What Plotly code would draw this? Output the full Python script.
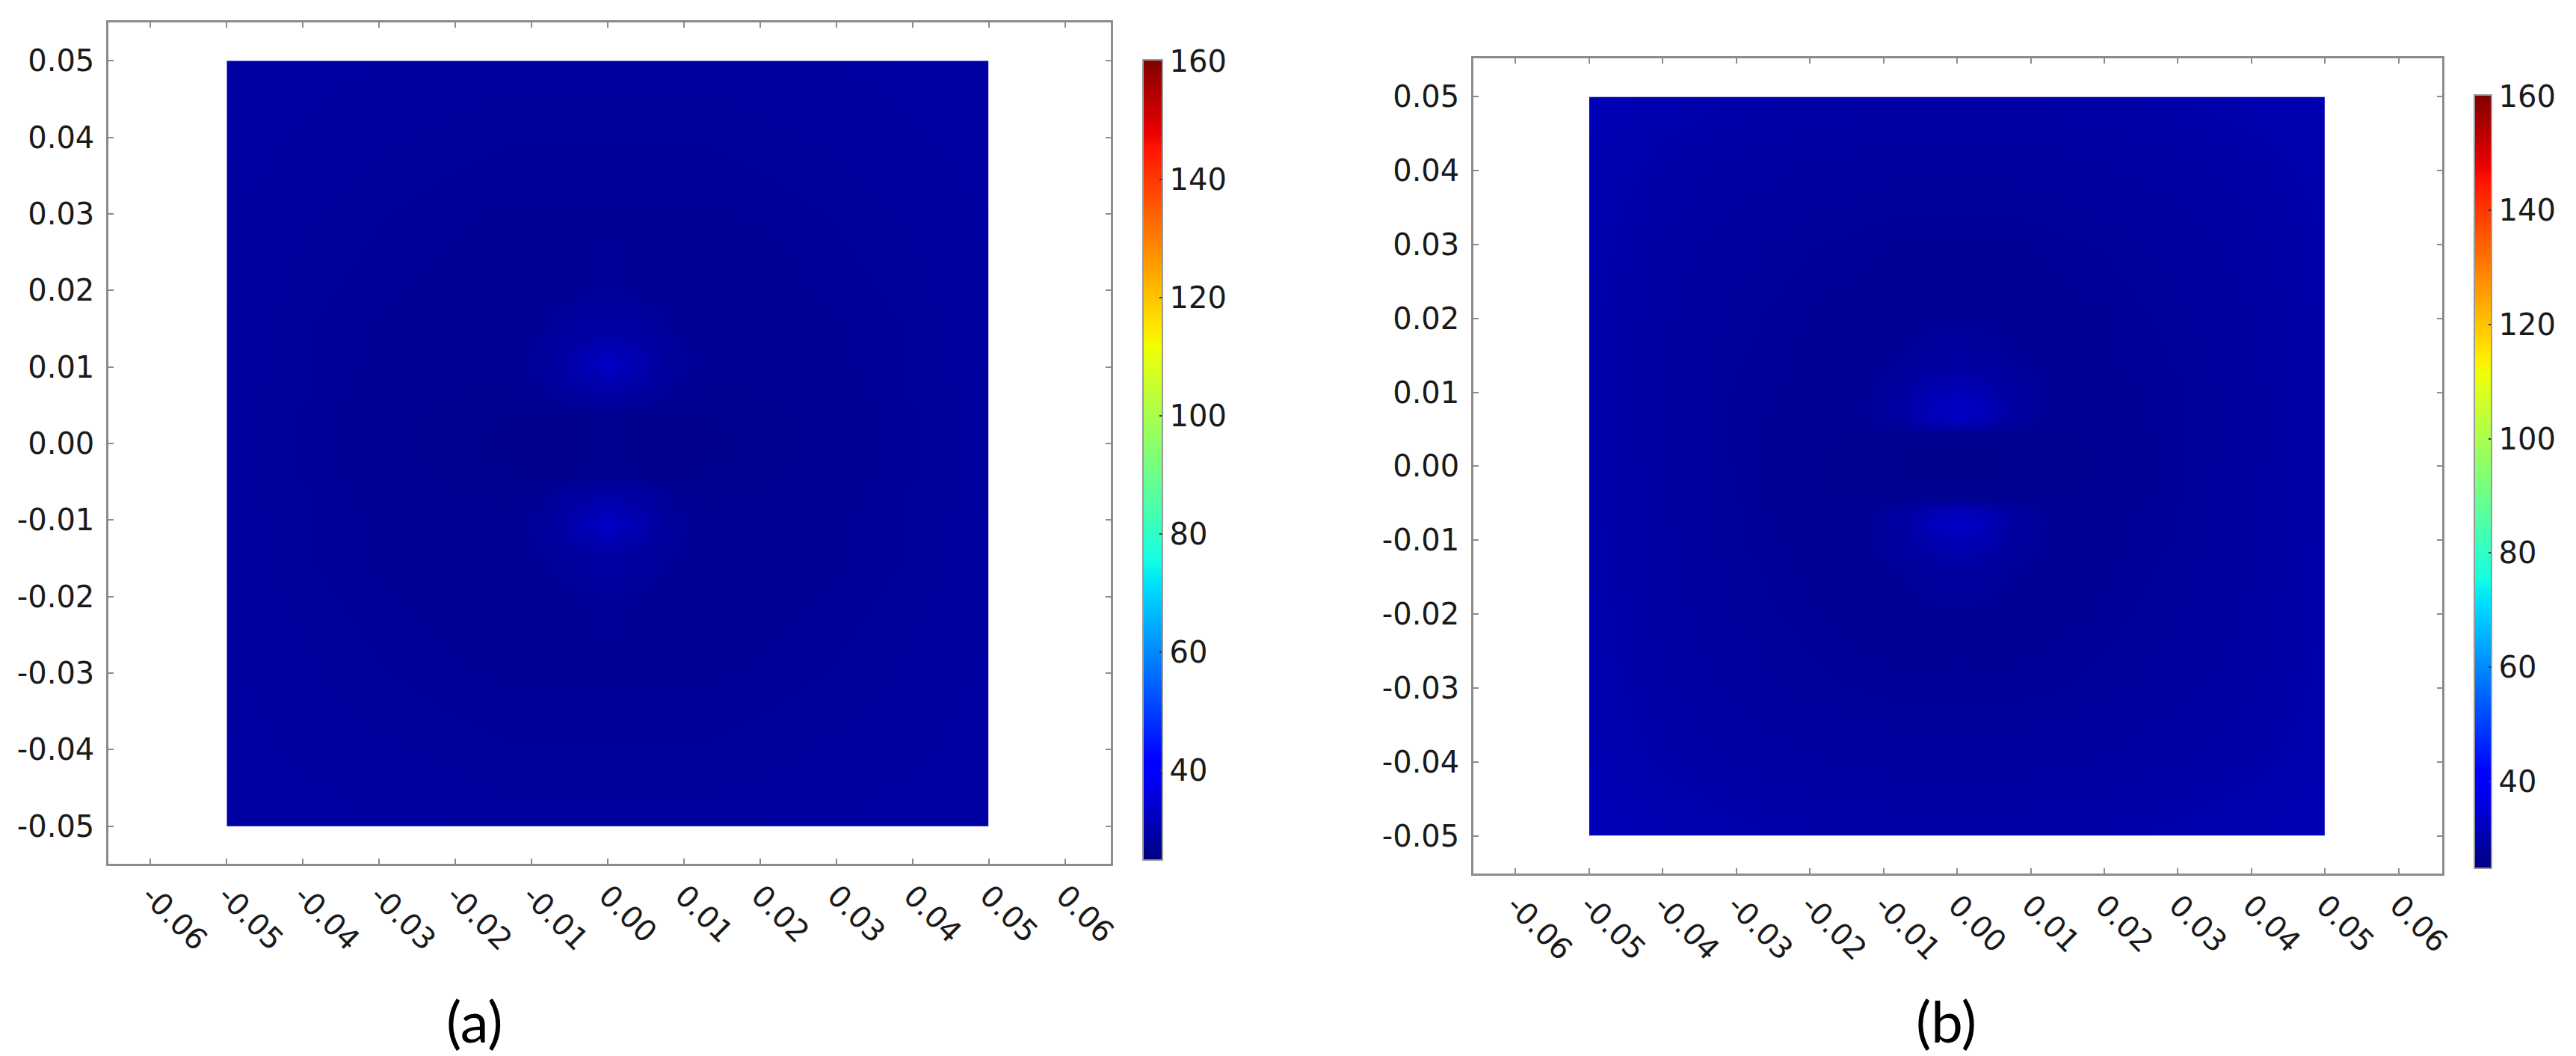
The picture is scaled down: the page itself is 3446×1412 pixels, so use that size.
import plotly.graph_objects as go

FIG_W, FIG_H = 3446, 1412

# ---- axis ticks ----------------------------------------------------------
x_tick_vals = [-0.06, -0.05, -0.04, -0.03, -0.02, -0.01, 0.0, 0.01, 0.02, 0.03, 0.04, 0.05, 0.06]
x_tick_text = ["-0.06", "-0.05", "-0.04", "-0.03", "-0.02", "-0.01", "0.00",
               "0.01", "0.02", "0.03", "0.04", "0.05", "0.06"]
y_tick_vals = [-0.05, -0.04, -0.03, -0.02, -0.01, 0.0, 0.01, 0.02, 0.03, 0.04, 0.05]
y_tick_text = ["-0.05", "-0.04", "-0.03", "-0.02", "-0.01", "0.00",
               "0.01", "0.02", "0.03", "0.04", "0.05"]
cbar_vals = [40, 60, 80, 100, 120, 140, 160]
c_min, c_max = 24.8, 160.2

# ---- panel (a) field (rows bottom -> top) --------------------------------
xa = [-0.05, -0.04, -0.03, -0.02, -0.013, -0.008, -0.004, 0.0, 0.004, 0.008, 0.013, 0.02, 0.03, 0.04, 0.05]
ya = [-0.05, -0.04, -0.03, -0.02, -0.0145, -0.0105, -0.0065, -0.0035, 0.0,
      0.0035, 0.0065, 0.0105, 0.0145, 0.02, 0.03, 0.04, 0.05]
za = [
    [29.0, 28.8, 28.5, 28.3, 28.2, 28.2, 28.2, 28.2, 28.2, 28.2, 28.2, 28.3, 28.5, 28.8, 29.0],
    [28.8, 28.4, 28.1, 27.9, 27.8, 27.8, 27.8, 27.8, 27.8, 27.8, 27.8, 27.9, 28.1, 28.4, 28.8],
    [28.6, 28.1, 27.8, 27.6, 27.5, 27.5, 27.5, 27.5, 27.5, 27.5, 27.5, 27.6, 27.8, 28.1, 28.6],
    [28.4, 27.9, 27.6, 27.4, 27.3, 27.3, 27.5, 27.7, 27.5, 27.3, 27.3, 27.4, 27.6, 27.9, 28.4],
    [28.3, 27.8, 27.5, 27.3, 27.3, 27.7, 28.6, 29.3, 28.6, 27.7, 27.3, 27.3, 27.5, 27.8, 28.3],
    [28.3, 27.8, 27.5, 27.2, 27.3, 28.2, 30.6, 33.0, 30.6, 28.2, 27.3, 27.2, 27.5, 27.8, 28.3],
    [28.2, 27.8, 27.4, 27.1, 26.9, 27.4, 28.5, 29.4, 28.5, 27.4, 26.9, 27.1, 27.4, 27.8, 28.2],
    [28.2, 27.7, 27.3, 26.9, 26.5, 26.3, 26.4, 26.6, 26.4, 26.3, 26.5, 26.9, 27.3, 27.7, 28.2],
    [28.2, 27.7, 27.3, 26.8, 26.3, 26.0, 26.3, 27.4, 26.3, 26.0, 26.3, 26.8, 27.3, 27.7, 28.2],
    [28.2, 27.7, 27.3, 26.9, 26.5, 26.3, 26.4, 26.6, 26.4, 26.3, 26.5, 26.9, 27.3, 27.7, 28.2],
    [28.2, 27.8, 27.4, 27.1, 26.9, 27.4, 28.5, 29.4, 28.5, 27.4, 26.9, 27.1, 27.4, 27.8, 28.2],
    [28.3, 27.8, 27.5, 27.2, 27.3, 28.2, 30.6, 33.0, 30.6, 28.2, 27.3, 27.2, 27.5, 27.8, 28.3],
    [28.3, 27.8, 27.5, 27.3, 27.3, 27.7, 28.6, 29.3, 28.6, 27.7, 27.3, 27.3, 27.5, 27.8, 28.3],
    [28.4, 27.9, 27.6, 27.4, 27.3, 27.3, 27.5, 27.7, 27.5, 27.3, 27.3, 27.4, 27.6, 27.9, 28.4],
    [28.6, 28.1, 27.8, 27.6, 27.5, 27.5, 27.5, 27.5, 27.5, 27.5, 27.5, 27.6, 27.8, 28.1, 28.6],
    [28.8, 28.4, 28.1, 27.9, 27.8, 27.8, 27.8, 27.8, 27.8, 27.8, 27.8, 27.9, 28.1, 28.4, 28.8],
    [29.0, 28.8, 28.5, 28.3, 28.2, 28.2, 28.2, 28.2, 28.2, 28.2, 28.2, 28.3, 28.5, 28.8, 29.0],
]

# ---- panel (b) field ------------------------------------------------------
xb = [-0.05, -0.04, -0.03, -0.02, -0.012, -0.007, -0.0035, 0.0, 0.0035, 0.007, 0.012, 0.02, 0.03, 0.04, 0.05]
yb = [-0.05, -0.04, -0.03, -0.02, -0.014, -0.0105, -0.0075, -0.006, -0.0045, -0.002, 0.0,
      0.002, 0.0045, 0.006, 0.0075, 0.0105, 0.014, 0.02, 0.03, 0.04, 0.05]
zb = [
    [31.6, 30.7, 30.1, 29.7, 29.5, 29.4, 29.4, 29.4, 29.4, 29.4, 29.5, 29.7, 30.1, 30.6, 31.2],
    [30.9, 29.7, 29.0, 28.6, 28.4, 28.3, 28.3, 28.3, 28.3, 28.3, 28.4, 28.6, 29.0, 29.5, 30.5],
    [30.5, 29.1, 28.3, 27.9, 27.7, 27.6, 27.6, 27.6, 27.6, 27.6, 27.7, 27.9, 28.3, 28.9, 30.1],
    [30.3, 28.8, 28.0, 27.6, 27.4, 27.4, 27.4, 27.5, 27.4, 27.4, 27.4, 27.6, 28.0, 28.6, 29.9],
    [30.2, 28.7, 27.9, 27.5, 27.4, 27.7, 28.4, 28.8, 28.4, 27.7, 27.4, 27.5, 27.9, 28.5, 29.8],
    [30.2, 28.7, 27.8, 27.4, 27.5, 28.6, 30.2, 31.0, 30.2, 28.6, 27.5, 27.4, 27.8, 28.5, 29.8],
    [30.1, 28.6, 27.8, 27.4, 27.6, 29.2, 31.8, 33.2, 31.8, 29.2, 27.6, 27.4, 27.8, 28.4, 29.7],
    [30.1, 28.6, 27.8, 27.3, 27.4, 28.6, 30.6, 31.8, 30.6, 28.6, 27.4, 27.3, 27.8, 28.4, 29.7],
    [30.1, 28.6, 27.7, 27.2, 27.0, 26.9, 26.9, 27.0, 26.9, 26.9, 27.0, 27.2, 27.7, 28.4, 29.7],
    [30.1, 28.6, 27.7, 27.1, 26.9, 26.6, 26.5, 26.5, 26.5, 26.6, 26.9, 27.1, 27.7, 28.4, 29.7],
    [30.1, 28.6, 27.7, 27.1, 26.9, 26.6, 26.4, 26.4, 26.4, 26.6, 26.9, 27.1, 27.7, 28.4, 29.7],
    [30.0, 28.5, 27.7, 27.1, 26.9, 26.6, 26.5, 26.5, 26.5, 26.6, 26.9, 27.1, 27.7, 28.3, 29.6],
    [30.0, 28.5, 27.7, 27.2, 27.0, 26.9, 26.9, 27.0, 26.9, 26.9, 27.0, 27.2, 27.7, 28.3, 29.6],
    [30.0, 28.5, 27.7, 27.3, 27.4, 28.6, 30.6, 31.8, 30.6, 28.6, 27.4, 27.3, 27.7, 28.3, 29.6],
    [30.0, 28.5, 27.7, 27.4, 27.6, 29.2, 31.8, 33.2, 31.8, 29.2, 27.6, 27.4, 27.7, 28.3, 29.6],
    [30.0, 28.5, 27.7, 27.4, 27.5, 28.6, 30.2, 31.0, 30.2, 28.6, 27.5, 27.4, 27.7, 28.3, 29.6],
    [30.0, 28.5, 27.8, 27.5, 27.4, 27.7, 28.4, 28.8, 28.4, 27.7, 27.4, 27.5, 27.8, 28.4, 29.6],
    [30.1, 28.6, 27.9, 27.5, 27.4, 27.4, 27.4, 27.5, 27.4, 27.4, 27.4, 27.5, 27.9, 28.5, 29.7],
    [30.3, 28.9, 28.2, 27.8, 27.6, 27.5, 27.5, 27.5, 27.5, 27.5, 27.6, 27.8, 28.2, 28.8, 29.9],
    [30.6, 29.5, 28.8, 28.4, 28.2, 28.1, 28.1, 28.1, 28.1, 28.1, 28.2, 28.4, 28.8, 29.3, 30.2],
    [31.2, 30.4, 29.9, 29.5, 29.3, 29.2, 29.2, 29.2, 29.2, 29.2, 29.3, 29.5, 29.9, 30.3, 30.8],
]

# matplotlib-style jet
jet = [
    [0.0, "rgb(0,0,128)"], [0.11, "rgb(0,0,255)"], [0.125, "rgb(0,0,255)"],
    [0.34, "rgb(0,219,255)"], [0.35, "rgb(0,230,247)"], [0.375, "rgb(21,255,226)"],
    [0.64, "rgb(239,255,8)"], [0.65, "rgb(247,245,0)"], [0.66, "rgb(255,236,0)"],
    [0.89, "rgb(255,19,0)"], [0.91, "rgb(232,0,0)"], [1.0, "rgb(128,0,0)"],
]

# frame box in px (left, right, top, bottom), axis ranges, colorbar (left, top, thickness, length)
panels = [
    dict(x=xa, y=ya, z=za, frame=(138, 1485, 22, 1147), xr=(-0.0655, 0.066), yr=(-0.0549, 0.055),
         cbar=(1529, 72, 26, 1070), label="(a)", label_at=(630, 1356)),
    dict(x=xb, y=yb, z=zb, frame=(1973, 3275, 70, 1160), xr=(-0.0657, 0.0659), yr=(-0.0551, 0.0552),
         cbar=(3318, 119, 23, 1034), label="(b)", label_at=(2608, 1356)),
]

tick_font = dict(family="DejaVu Sans", size=40, color="#1a1a1a")
frame_color = "#8c8c8c"


def axis_id(n):
    return "" if n == 1 else str(n)


def sub_domain(dom, rng, v0, v1):
    """Paper-domain of the data interval [v0, v1] inside an axis spanning rng over dom."""
    f = lambda v: dom[0] + (v - rng[0]) / (rng[1] - rng[0]) * (dom[1] - dom[0])
    return [f(v0), f(v1)]


fig = go.Figure()
layout = dict(
    width=FIG_W, height=FIG_H, margin=dict(l=0, r=0, t=0, b=0),
    paper_bgcolor="white", plot_bgcolor="white", showlegend=False,
    annotations=[],
)

for i, p in enumerate(panels):
    fid, hid = axis_id(2 * i + 1), axis_id(2 * i + 2)
    left, right, top, bottom = p["frame"]
    xd = [left / FIG_W, right / FIG_W]
    yd = [1 - bottom / FIG_H, 1 - top / FIG_H]

    # the field covers only part of the frame; own axes keep it clipped to its extent
    hxd = sub_domain(xd, p["xr"], min(p["x"]), max(p["x"]))
    hyd = sub_domain(yd, p["yr"], min(p["y"]), max(p["y"]))

    # empty trace so the frame axes get drawn
    fig.add_trace(go.Scatter(x=[], y=[], xaxis=f"x{fid}", yaxis=f"y{fid}", hoverinfo="skip"))

    cb_left, cb_top, cb_thick, cb_len = p["cbar"]
    fig.add_trace(go.Heatmap(
        x=p["x"], y=p["y"], z=p["z"], zsmooth="best",
        colorscale=jet, zmin=c_min, zmax=c_max,
        xaxis=f"x{hid}", yaxis=f"y{hid}", hoverinfo="skip",
        colorbar=dict(
            x=cb_left / FIG_W, xanchor="left", xpad=0,
            y=1 - cb_top / FIG_H, yanchor="top", ypad=0,
            len=cb_len, lenmode="pixels", thickness=cb_thick, thicknessmode="pixels",
            outlinewidth=2, outlinecolor="#9a9a9a",
            tickvals=cbar_vals, ticks="inside", ticklen=5, tickwidth=2, tickcolor="#333333",
            tickfont=tick_font,
        ),
    ))

    frame_axis = dict(
        showline=True, linecolor=frame_color, linewidth=3, mirror="ticks",
        ticks="inside", ticklen=7, tickwidth=2, tickcolor=frame_color,
        showgrid=False, zeroline=False, fixedrange=True, tickfont=tick_font,
    )
    layout[f"xaxis{fid}"] = dict(frame_axis, domain=xd, range=list(p["xr"]), anchor=f"y{fid}",
                                 tickvals=x_tick_vals, ticktext=x_tick_text, tickangle=45)
    layout[f"yaxis{fid}"] = dict(frame_axis, domain=yd, range=list(p["yr"]), anchor=f"x{fid}",
                                 tickvals=y_tick_vals, ticktext=y_tick_text, ticklabelstandoff=8)
    layout[f"xaxis{hid}"] = dict(domain=hxd, range=[min(p["x"]), max(p["x"])], anchor=f"y{hid}",
                                 visible=False, fixedrange=True)
    layout[f"yaxis{hid}"] = dict(domain=hyd, range=[min(p["y"]), max(p["y"])], anchor=f"x{hid}",
                                 visible=False, fixedrange=True)

    lx, ly = p["label_at"]
    layout["annotations"].append(dict(
        text=p["label"], x=lx / FIG_W, y=1 - ly / FIG_H, xref="paper", yref="paper",
        xanchor="center", yanchor="middle", showarrow=False,
        font=dict(family="Lato", size=76, color="#000000"),
    ))

fig.update_layout(**layout)
fig.write_html("out.html")
